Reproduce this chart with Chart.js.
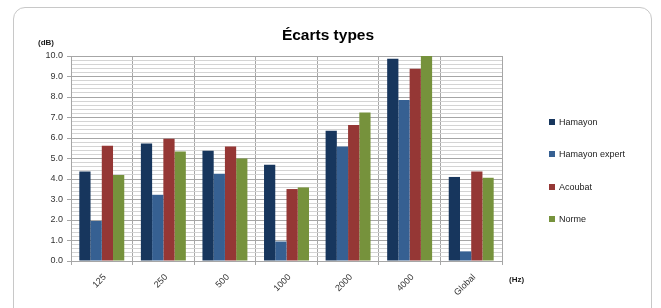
<!DOCTYPE html>
<html><head><meta charset="utf-8">
<script src="https://cdn.jsdelivr.net/npm/chart.js@4/dist/chart.umd.min.js"></script>
<style>
html,body{margin:0;padding:0;background:#fff;width:661px;height:308px;overflow:hidden;}
#frame{position:absolute;left:13px;top:7px;width:639px;height:340px;border:1.5px solid #c8c8c8;border-radius:12px;box-sizing:border-box;}
#wrap{position:absolute;left:0;top:0;width:661px;height:308px;}
</style></head>
<body>
<div id="frame"></div>
<div id="wrap"><canvas id="c" width="661" height="308"></canvas></div>
<script>
const categories = ['125','250','500','1000','2000','4000','Global'];
const seriesNames = ['Hamayon','Hamayon expert','Acoubat','Norme'];
const hamayon       = [4.37, 5.73, 5.38, 4.69, 6.35, 9.87, 4.10];
const hamayonExpert = [1.95, 3.23, 4.26, 0.95, 5.58, 7.85, 0.47];
const acoubat       = [5.62, 5.96, 5.59, 3.51, 6.63, 9.38, 4.37];
const norme         = [4.19, 5.34, 5.00, 3.59, 7.24, 10.0, 4.06];
const colors = ['#17365D','#366092','#953735','#76923C'];
const titleText = 'Écarts types';
const yUnit = '(dB)';
const xUnit = '(Hz)';

const FONT = "'Liberation Sans', Arial, sans-serif";
const isMajor = v => Math.abs(v - Math.round(v)) < 1e-6;

const extras = {
  id: 'extras',
  afterDraw(chart) {
    const ctx = chart.ctx;
    ctx.save();
    ctx.fillStyle = '#000';
    ctx.font = 'bold 15.5px ' + FONT;
    ctx.textAlign = 'center';
    ctx.textBaseline = 'middle';
    ctx.fillText(titleText, 328, 36);
    ctx.font = 'bold 8px ' + FONT;
    ctx.fillStyle = '#1a1a1a';
    ctx.textAlign = 'left';
    ctx.fillText(yUnit, 38, 43);
    ctx.fillText(xUnit, 509, 280);
    // legend
    const ys = [122, 154, 187, 219];
    ctx.font = '9px ' + FONT;
    chart.data.datasets.forEach((ds, i) => {
      ctx.fillStyle = ds.backgroundColor;
      ctx.fillRect(549, ys[i] - 3, 6, 6);
      ctx.fillStyle = '#222';
      ctx.fillText(ds.label, 559, ys[i] + 0.5);
    });
    ctx.restore();
  }
};

new Chart(document.getElementById('c'), {
  type: 'bar',
  data: {
    labels: categories,
    datasets: [hamayon, hamayonExpert, acoubat, norme].map((d, i) => ({
      label: seriesNames[i],
      data: d,
      backgroundColor: colors[i],
      borderWidth: 0,
      categoryPercentage: 0.73,
      barPercentage: 1.0
    }))
  },
  options: {
    responsive: false,
    animation: false,
    events: [],
    layout: { padding: { left: 0, right: 159, top: 56, bottom: 0 } },
    plugins: { legend: { display: false }, title: { display: false }, tooltip: { enabled: false } },
    scales: {
      x: {
        afterFit(s) { s.height = 47; },
        grid: { offset: true, color: '#a6a6a6', lineWidth: 1, drawTicks: true, tickLength: 4, tickColor: '#a6a6a6' },
        border: { color: '#a6a6a6' },
        ticks: { minRotation: 45, maxRotation: 45, font: { family: FONT, size: 9 }, color: '#333', padding: 7, labelOffset: 3 }
      },
      y: {
        min: 0, max: 10,
        afterFit(s) { s.width = 71; },
        ticks: {
          stepSize: 0.2, autoSkip: false,
          callback: v => isMajor(v) ? Number(v).toFixed(1) : '',
          font: { family: FONT, size: 9 }, color: '#333', padding: 4
        },
        grid: {
          color: c => isMajor(c.tick.value) ? '#a6a6a6' : '#d4d4d4',
          tickColor: c => isMajor(c.tick.value) ? '#a6a6a6' : 'rgba(0,0,0,0)',
          tickLength: 4
        },
        border: { color: '#a6a6a6' }
      }
    }
  },
  plugins: [extras]
});
</script>
</body></html>
